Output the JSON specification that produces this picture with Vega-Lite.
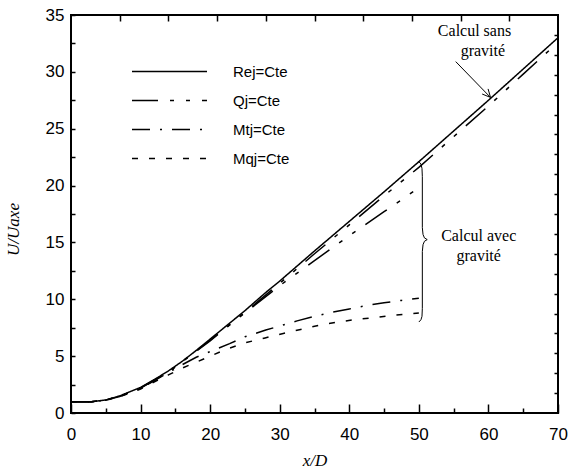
{
  "$schema": "https://vega.github.io/schema/vega-lite/v6.json",
  "width": 487,
  "height": 398,
  "autosize": "none",
  "padding": {"left": 71, "top": 15, "right": 13, "bottom": 58},
  "config": {
    "view": {"stroke": "black", "strokeWidth": 2},
    "axis": {"domain": false, "grid": false, "tickColor": "black", "tickWidth": 1.5, "labelColor": "black", "titleColor": "black", "labelFont": "Liberation Sans", "labelFontSize": 17, "titleFont": "Liberation Serif", "titleFontStyle": "italic", "titleFontWeight": "normal", "titleFontSize": 17}
  },
  "datasets": {
    "curves": [
      {"s":"Rej=Cte","run":"sans","x":0,"y":1.0},{"s":"Rej=Cte","run":"sans","x":3,"y":1.0},{"s":"Rej=Cte","run":"sans","x":5,"y":1.15},{"s":"Rej=Cte","run":"sans","x":7,"y":1.5},{"s":"Rej=Cte","run":"sans","x":8,"y":1.75},{"s":"Rej=Cte","run":"sans","x":10,"y":2.25},{"s":"Rej=Cte","run":"sans","x":12,"y":2.95},{"s":"Rej=Cte","run":"sans","x":14,"y":3.7},{"s":"Rej=Cte","run":"sans","x":16,"y":4.55},{"s":"Rej=Cte","run":"sans","x":18,"y":5.5},{"s":"Rej=Cte","run":"sans","x":20,"y":6.5},{"s":"Rej=Cte","run":"sans","x":22,"y":7.5},{"s":"Rej=Cte","run":"sans","x":25,"y":9.0},{"s":"Rej=Cte","run":"sans","x":28,"y":10.6},{"s":"Rej=Cte","run":"sans","x":30,"y":11.6},{"s":"Rej=Cte","run":"sans","x":35,"y":14.25},{"s":"Rej=Cte","run":"sans","x":40,"y":16.85},{"s":"Rej=Cte","run":"sans","x":45,"y":19.45},{"s":"Rej=Cte","run":"sans","x":50,"y":22.1},{"s":"Rej=Cte","run":"sans","x":55,"y":24.8},{"s":"Rej=Cte","run":"sans","x":60,"y":27.5},{"s":"Rej=Cte","run":"sans","x":65,"y":30.25},{"s":"Rej=Cte","run":"sans","x":70,"y":33.0},

      {"s":"Qj=Cte","run":"sans","x":0,"y":1.0},{"s":"Qj=Cte","run":"sans","x":3,"y":1.0},{"s":"Qj=Cte","run":"sans","x":5,"y":1.13},{"s":"Qj=Cte","run":"sans","x":7,"y":1.47},{"s":"Qj=Cte","run":"sans","x":10,"y":2.2},{"s":"Qj=Cte","run":"sans","x":14,"y":3.6},{"s":"Qj=Cte","run":"sans","x":20,"y":6.4},{"s":"Qj=Cte","run":"sans","x":25,"y":8.85},{"s":"Qj=Cte","run":"sans","x":30,"y":11.4},{"s":"Qj=Cte","run":"sans","x":35,"y":14.0},{"s":"Qj=Cte","run":"sans","x":40,"y":16.55},{"s":"Qj=Cte","run":"sans","x":45,"y":19.1},{"s":"Qj=Cte","run":"sans","x":50,"y":21.6},{"s":"Qj=Cte","run":"sans","x":55,"y":24.3},{"s":"Qj=Cte","run":"sans","x":60,"y":27.0},{"s":"Qj=Cte","run":"sans","x":65,"y":29.8},{"s":"Qj=Cte","run":"sans","x":70,"y":32.6},

      {"s":"Qj=Cte","run":"avec","x":0,"y":1.0},{"s":"Qj=Cte","run":"avec","x":3,"y":1.0},{"s":"Qj=Cte","run":"avec","x":5,"y":1.13},{"s":"Qj=Cte","run":"avec","x":7,"y":1.46},{"s":"Qj=Cte","run":"avec","x":10,"y":2.2},{"s":"Qj=Cte","run":"avec","x":14,"y":3.6},{"s":"Qj=Cte","run":"avec","x":20,"y":6.35},{"s":"Qj=Cte","run":"avec","x":25,"y":8.8},{"s":"Qj=Cte","run":"avec","x":30,"y":11.2},{"s":"Qj=Cte","run":"avec","x":35,"y":13.4},{"s":"Qj=Cte","run":"avec","x":40,"y":15.6},{"s":"Qj=Cte","run":"avec","x":45,"y":17.7},{"s":"Qj=Cte","run":"avec","x":50,"y":19.8},

      {"s":"Mtj=Cte","run":"avec","x":0,"y":1.0},{"s":"Mtj=Cte","run":"avec","x":3,"y":1.0},{"s":"Mtj=Cte","run":"avec","x":5,"y":1.13},{"s":"Mtj=Cte","run":"avec","x":7,"y":1.45},{"s":"Mtj=Cte","run":"avec","x":10,"y":2.15},{"s":"Mtj=Cte","run":"avec","x":12,"y":2.85},{"s":"Mtj=Cte","run":"avec","x":14,"y":3.55},{"s":"Mtj=Cte","run":"avec","x":16,"y":4.25},{"s":"Mtj=Cte","run":"avec","x":18,"y":4.9},{"s":"Mtj=Cte","run":"avec","x":20,"y":5.4},{"s":"Mtj=Cte","run":"avec","x":22.8,"y":6.1},{"s":"Mtj=Cte","run":"avec","x":25,"y":6.7},{"s":"Mtj=Cte","run":"avec","x":28,"y":7.3},{"s":"Mtj=Cte","run":"avec","x":30,"y":7.65},{"s":"Mtj=Cte","run":"avec","x":32.5,"y":8.1},{"s":"Mtj=Cte","run":"avec","x":35,"y":8.5},{"s":"Mtj=Cte","run":"avec","x":37.5,"y":8.85},{"s":"Mtj=Cte","run":"avec","x":40,"y":9.15},{"s":"Mtj=Cte","run":"avec","x":42.5,"y":9.45},{"s":"Mtj=Cte","run":"avec","x":45,"y":9.7},{"s":"Mtj=Cte","run":"avec","x":47.5,"y":9.9},{"s":"Mtj=Cte","run":"avec","x":50,"y":10.1},

      {"s":"Mqj=Cte","run":"avec","x":0,"y":1.0},{"s":"Mqj=Cte","run":"avec","x":3,"y":1.0},{"s":"Mqj=Cte","run":"avec","x":5,"y":1.12},{"s":"Mqj=Cte","run":"avec","x":7,"y":1.43},{"s":"Mqj=Cte","run":"avec","x":10,"y":2.1},{"s":"Mqj=Cte","run":"avec","x":12,"y":2.75},{"s":"Mqj=Cte","run":"avec","x":14,"y":3.35},{"s":"Mqj=Cte","run":"avec","x":16,"y":3.95},{"s":"Mqj=Cte","run":"avec","x":18.1,"y":4.5},{"s":"Mqj=Cte","run":"avec","x":20.4,"y":5.1},{"s":"Mqj=Cte","run":"avec","x":22.5,"y":5.65},{"s":"Mqj=Cte","run":"avec","x":25.2,"y":6.2},{"s":"Mqj=Cte","run":"avec","x":27.9,"y":6.6},{"s":"Mqj=Cte","run":"avec","x":30.5,"y":7.0},{"s":"Mqj=Cte","run":"avec","x":33,"y":7.35},{"s":"Mqj=Cte","run":"avec","x":35.8,"y":7.74},{"s":"Mqj=Cte","run":"avec","x":38.4,"y":8.0},{"s":"Mqj=Cte","run":"avec","x":41,"y":8.23},{"s":"Mqj=Cte","run":"avec","x":43.7,"y":8.4},{"s":"Mqj=Cte","run":"avec","x":46.3,"y":8.6},{"s":"Mqj=Cte","run":"avec","x":50,"y":8.8}
    ],
    "brace": [
      {"i":0,"x":50.0,"y":22.1},{"i":1,"x":50.3,"y":21.9},{"i":2,"x":50.45,"y":21.5},{"i":3,"x":50.5,"y":20.8},{"i":4,"x":50.5,"y":16.3},{"i":5,"x":50.6,"y":15.7},{"i":6,"x":50.8,"y":15.4},{"i":7,"x":51.2,"y":15.25},{"i":8,"x":50.8,"y":15.1},{"i":9,"x":50.6,"y":14.8},{"i":10,"x":50.5,"y":14.2},{"i":11,"x":50.5,"y":9.2},{"i":12,"x":50.45,"y":8.5},{"i":13,"x":50.3,"y":8.2},{"i":14,"x":50.0,"y":8.0}
    ],
    "arrow": [
      {"part":"shaft","i":0,"x":55.3,"y":30.9},{"part":"shaft","i":1,"x":60.3,"y":27.75},
      {"part":"head","i":0,"x":59.95,"y":28.5},{"part":"head","i":1,"x":60.3,"y":27.75},{"part":"head","i":2,"x":59.1,"y":28.05}
    ],
    "notes": [
      {"x":58.0,"y":33.6,"t":"Calcul sans"},{"x":59.2,"y":31.85,"t":"gravité"},
      {"x":58.6,"y":15.6,"t":"Calcul avec"},{"x":58.6,"y":13.85,"t":"gravité"}
    ]
  },
  "resolve": {"axis": {"x": "independent", "y": "independent"}},
  "layer": [
    {
      "data": {"name": "curves"},
      "mark": {"type": "line", "color": "black", "strokeWidth": 1.5},
      "encoding": {
        "x": {"field": "x", "type": "quantitative", "scale": {"domain": [0, 70], "nice": false},
          "axis": {"orient": "bottom", "title": "x/D", "values": [0,5,10,15,20,25,30,35,40,45,50,55,60,65,70], "labelExpr": "datum.value % 10 === 0 ? datum.label : ''", "tickSize": {"condition": {"test": "datum.value % 10 === 0", "value": -9}, "value": -5}, "labelPadding": 22, "labelFlush": false, "titlePadding": 10}},
        "y": {"field": "y", "type": "quantitative", "scale": {"domain": [0, 35], "nice": false},
          "axis": {"orient": "left", "title": "U/Uaxe", "values": [0,2.5,5,7.5,10,12.5,15,17.5,20,22.5,25,27.5,30,32.5,35], "labelExpr": "datum.value % 5 === 0 ? datum.label : ''", "tickSize": -4, "labelPadding": 11, "titleX": -49, "titleY": 214}},
        "detail": {"field": "run"},
        "strokeDash": {"field": "s", "type": "nominal",
          "scale": {"domain": ["Rej=Cte", "Qj=Cte", "Mtj=Cte", "Mqj=Cte"], "range": [[1, 0], [26, 12, 4, 12, 4, 12], [18, 10, 2, 10], [6, 11]]},
          "legend": {"orient": "none", "legendX": 60, "legendY": 42, "title": null, "symbolType": "stroke", "symbolSize": 5625, "symbolStrokeWidth": 1.5, "symbolStrokeColor": "black", "clipHeight": 29, "rowPadding": 0, "labelOffset": 25, "labelFont": "Liberation Sans", "labelFontSize": 15, "labelColor": "black", "padding": 0, "labelLimit": 200}}
      }
    },
    {
      "data": {"name": "brace"},
      "mark": {"type": "line", "color": "black", "strokeWidth": 1},
      "encoding": {
        "x": {"field": "x", "type": "quantitative", "axis": {"orient": "top", "title": null, "values": [7,14,21,28,35,42,49,56,63], "labels": false, "tickSize": -6}},
        "y": {"field": "y", "type": "quantitative", "axis": {"orient": "right", "title": null, "values": [1.75,3.5,5.25,7,8.75,10.5,12.25,14,15.75,17.5,19.25,21,22.75,24.5,26.25,28,29.75,31.5,33.25], "labels": false, "tickSize": -4}},
        "order": {"field": "i"}
      }
    },
    {
      "data": {"name": "arrow"},
      "mark": {"type": "line", "color": "black", "strokeWidth": 1},
      "encoding": {
        "x": {"field": "x", "type": "quantitative", "axis": null},
        "y": {"field": "y", "type": "quantitative", "axis": null},
        "detail": {"field": "part"},
        "order": {"field": "i"}
      }
    },
    {
      "data": {"name": "notes"},
      "mark": {"type": "text", "font": "Liberation Serif", "fontSize": 16, "color": "black", "align": "center", "baseline": "middle"},
      "encoding": {
        "x": {"field": "x", "type": "quantitative", "axis": null},
        "y": {"field": "y", "type": "quantitative", "axis": null},
        "text": {"field": "t"}
      }
    }
  ]
}
